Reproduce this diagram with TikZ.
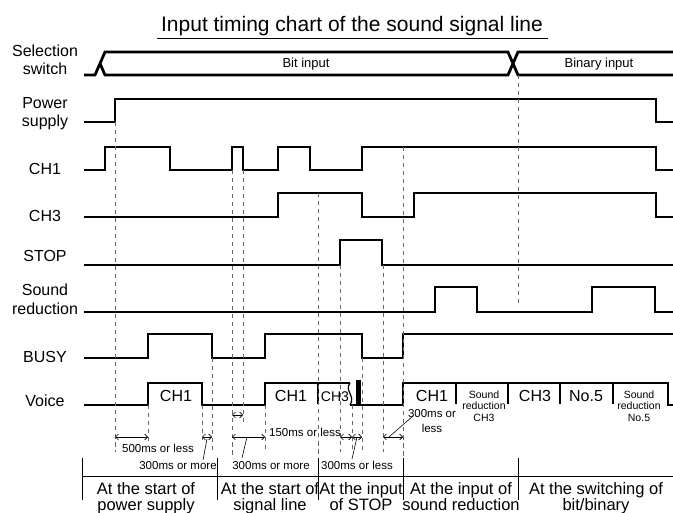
\documentclass[tikz,border=0pt]{standalone}
\usepackage{fontspec}
\setmainfont{Liberation Sans}
\usepackage{tikz}
\usetikzlibrary{arrows.meta}
\tikzset{
  wave/.style={line width=2.8pt},
  guide/.style={dash pattern=on 4.5pt off 3.5pt, gray!80!black, line width=0.8pt},
  tablerule/.style={line width=0.8pt},
  span/.style={{Straight Barb[length=3pt,width=6pt]}-{Straight Barb[length=3pt,width=6pt]}, line width=0.6pt},
  lead/.style={line width=0.6pt},
  sig/.style={anchor=base, align=center, font=\fontsize{16}{18}\selectfont},
  cell/.style={anchor=base, align=center, font=\fontsize{16.5}{17}\selectfont},
  note/.style={anchor=base, align=center, font=\fontsize{11.5}{15}\selectfont},
  bus/.style={anchor=base, font=\fontsize{13}{15}\selectfont}
}
\begin{document}
\begin{tikzpicture}[x=1pt, y=-1pt]
    \useasboundingbox (0,0) rectangle (673,513);

    \node[anchor=base, font=\fontsize{21}{24}\selectfont] (title) at (352,32) {Input timing chart of the sound signal line};
    \draw[tablerule] (157,38) -- (548,38);

    \node[sig] (selsw) at (45,75) {Selection\\switch};
    \node[sig] (power) at (45,127) {Power\\supply};
    \node[sig] (ch1) at (45,175) {CH1};
    \node[sig] (ch3) at (45,222) {CH3};
    \node[sig] (stop) at (45,262) {STOP};
    \node[sig, font=\fontsize{16}{19}\selectfont] (sndred) at (45,315) {Sound\\reduction};
    \node[sig] (busy) at (45,363) {BUSY};
    \node[sig] (voice) at (45,407) {Voice};

    % selection switch
    \draw[wave] (84,75) -- (95,75) -- (105,52) -- (508,52) -- (518,75) -- (673,75);
    \draw[wave] (100,63.5) -- (105,75) -- (508,75) -- (518,52) -- (673,52);
    \node[bus] (bit) at (306,68) {Bit input};
    \node[bus] (binary) at (599,68) {Binary input};

    \draw[wave] (84,122) -| (115,99) -| (656,122) -- (673,122);
    \draw[wave] (84,170) -| (105,147) -| (170,170) -| (232,147) -| (243,170) -| (278,147) -| (310,170) -| (362,147) -| (656,170) -- (673,170);
    \draw[wave] (84,217) -| (278,193) -| (362,217) -| (414,193) -| (656,217) -- (673,217);
    \draw[wave] (84,265) -| (340,240) -| (382,265) -- (673,265);
    \draw[wave] (84,312) -| (435,287) -| (477,312) -| (592,287) -| (655,312) -- (673,312);
    \draw[wave] (84,358) -| (148,334) -| (212,358) -| (265,334) -| (362,358) -| (403,334) -- (673,334);

    % voice
    \draw[wave] (84,405) -| (148,383) -| (202,405) -| (265,383) -- (350,383);
    \draw[wave] (350,405) -| (403,383) -| (668,405) -- (673,405);
    \foreach \x in {318,456,508,560,613}
      \draw[wave] (\x,383) -- (\x,404);
    \draw[line width=1.2pt] (350,383) .. controls (344,391) and (356,396) .. (350,405);
    \fill (356,380) rectangle (361,405);

    \node[sig] (v1) at (176,402) {CH1};
    \node[sig] (v2) at (291,402) {CH1};
    \node[sig, font=\fontsize{14}{16}\selectfont] (v3) at (335,402) {CH3};
    \node[sig] (v4) at (432,402) {CH1};
    \node[note, font=\fontsize{10.5}{11.5}\selectfont] (v5) at (484,421) {Sound\\reduction\\CH3};
    \node[sig] (v6) at (535,402) {CH3};
    \node[sig] (v7) at (586,402) {No.5};
    \node[note, font=\fontsize{10.5}{11.5}\selectfont] (v8) at (639,421) {Sound\\reduction\\No.5};

    \foreach \x/\ya/\yb in {115/122/452, 148/405/445, 202/405/440, 212/358/452, 232/170/456, 243/170/425,
        265/405/452, 318/193/456, 340/265/452, 352/405/452, 362/358/452, 383/265/452, 403/147/456, 518/75/305}
      \draw[guide] (\x,\ya) -- (\x,\yb);

    \draw[span] (115,437) -- (148,437);
    \draw[span] (202,437) -- (212,437);
    \draw[lead] (203,460) -- (207,439);
    \draw[span] (232,415) -- (243,415);
    \draw[span] (232,437) -- (265,437);
    \draw[lead] (242,458) -- (247,437);
    \draw[span] (340,437) -- (352,437);
    \draw[span] (352,437) -- (362,437);
    \draw[lead] (352,459) -- (357,437);
    \draw[span] (383,437) -- (403,437);
    \draw[lead] (389,437) -- (413,416);

    \node[note] (t500) at (158,453) {500ms or less};
    \node[note] (t300a) at (178,470) {300ms or more};
    \node[note] (t300b) at (271,470) {300ms or more};
    \node[note] (t150) at (305,436) {150ms or less};
    \node[note] (t300c) at (357,470) {300ms or less};
    \node[note] (t300d) at (432,432) {300ms or\\less};

    % table
    \draw[tablerule] (82,476) -- (673,476);
    \foreach \x in {82,217,318,403,518}
      \draw[tablerule] (\x,458) -- (\x,500);
    \node[cell] (c1) at (146,511) {At the start of\\power supply};
    \node[cell] (c2) at (270,511) {At the start of\\signal line};
    \node[cell] (c3) at (361,511) {At the input\\of STOP};
    \node[cell] (c4) at (461,511) {At the input of\\sound reduction};
    \node[cell] (c5) at (596,511) {At the switching of\\bit/binary};
\end{tikzpicture}
\end{document}
